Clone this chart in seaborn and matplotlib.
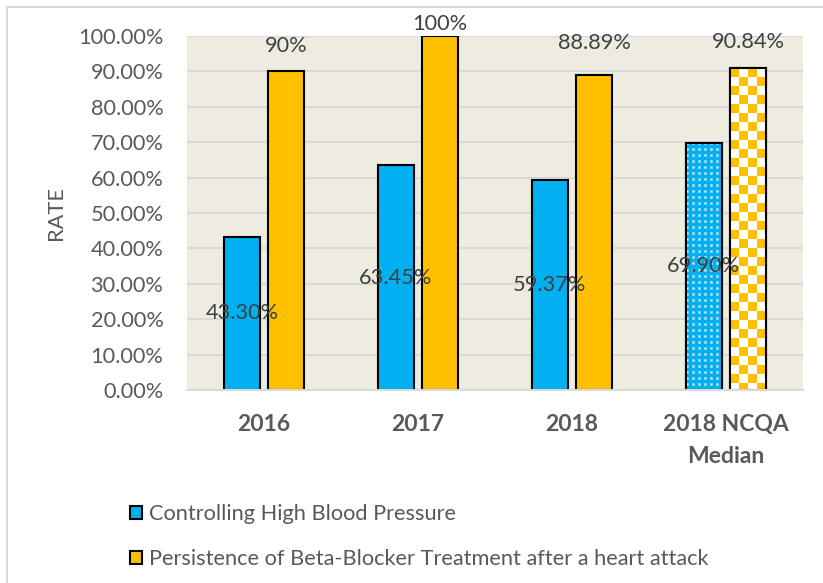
import numpy as np
import pandas as pd
import matplotlib.pyplot as plt
from matplotlib.patches import Rectangle
from matplotlib.lines import Line2D
import seaborn as sns

# chart data
years = ["2016", "2017", "2018", "2018 NCQA\nMedian"]
series_names = ["Controlling High Blood Pressure",
                "Persistence of Beta-Blocker Treatment after a heart attack"]
bp_rate = [43.30, 63.45, 59.37, 69.90]
bb_rate = [90.0, 100.0, 88.89, 90.84]
bp_labels = ["43.30%", "63.45%", "59.37%", "69.90%"]
bb_labels = ["90%", "100%", "88.89%", "90.84%"]

df = pd.DataFrame({
    "year": years * 2,
    "measure": [series_names[0]] * 4 + [series_names[1]] * 4,
    "rate": bp_rate + bb_rate,
})

sns.set_theme(style="white")
plt.rcParams["font.family"] = ["Lato", "DejaVu Sans"]

BLUE = "#00B0F0"
ORANGE = "#FFC000"
GREY_TXT = "#595959"
LABEL_TXT = "#404040"
FS = 15.7

fig = plt.figure(figsize=(8.23, 5.83), dpi=100)
ax = fig.add_axes([187 / 823, 1 - 390 / 583, 616 / 823, 354 / 583])
ax.set_facecolor("#EEECE1")

sns.barplot(data=df, x="year", y="rate", hue="measure",
            palette=[BLUE, ORANGE], width=0.576, gap=0.19,
            edgecolor="black", linewidth=1.5, saturation=1, ax=ax)

ax.set_ylim(0, 100)
ax.set_xlim(-0.5, 3.5)
ax.set_yticks(np.arange(0, 101, 10))
ax.set_yticklabels([f"{v:.2f}%" for v in np.arange(0, 101, 10)])
ax.yaxis.grid(True, color="#D9D9D9", lw=1.5)
ax.set_axisbelow(True)
for s in ["top", "right", "left"]:
    ax.spines[s].set_visible(False)
ax.spines["bottom"].set_color("#D9D9D9")
ax.spines["bottom"].set_linewidth(1.5)

ax.tick_params(axis="y", length=0, pad=17, labelsize=FS, labelcolor=GREY_TXT)
ax.tick_params(axis="x", length=0, pad=17.5, labelsize=16.5, labelcolor=GREY_TXT)
for t in ax.get_xticklabels():
    t.set_fontweight("bold")
    t.set_linespacing(1.65)

ax.set_xlabel("")
ax.set_ylabel("RATE", fontsize=FS, color=GREY_TXT)
ax.yaxis.set_label_coords(-0.197, 0.5)

# data labels
blue_bars = ax.containers[0]
orange_bars = ax.containers[1]
ax.bar_label(blue_bars, labels=bp_labels, label_type="center",
             fontsize=FS, color=LABEL_TXT)
pads = [11, 1.5, 16, 12]
for bar, lab, pad in zip(orange_bars, bb_labels, pads):
    ax.annotate(lab, (bar.get_x() + bar.get_width() / 2, bar.get_height()),
                xytext=(0, pad), textcoords="offset points",
                ha="center", va="bottom", fontsize=FS, color=LABEL_TXT,
                annotation_clip=False)

# legend below the plot
handles, labels = ax.get_legend_handles_labels()
ax.legend_.remove()
leg = fig.legend(handles, labels, loc="upper left",
                 bbox_to_anchor=(130 / 823, 1 - 504 / 583),
                 frameon=False, fontsize=FS, handlelength=0.55,
                 handleheight=0.55, handletextpad=0.3, labelspacing=1.15,
                 borderaxespad=0, borderpad=0)
for t in leg.get_texts():
    t.set_color(GREY_TXT)

# patterned fill for the NCQA median bars
fig.canvas.draw()
renderer = fig.canvas.get_renderer()


def fill_pattern(bar, kind):
    bb = bar.get_window_extent(renderer)
    w_px, h_px = max(int(round(bb.width)), 1), max(int(round(bb.height)), 1)
    r, c = np.mgrid[0:h_px, 0:w_px]
    if kind == "dots":
        img = np.zeros((h_px, w_px, 3))
        img[:] = np.array([0, 176, 240]) / 255
        halo = (r % 6 < 3) & (c % 6 < 3)
        img[halo] = np.array([120, 210, 248]) / 255
        core = (r % 6 == 1) & (c % 6 == 1)
        img[core] = 1.0
    else:
        img = np.ones((h_px, w_px, 3))
        mask = ((r // 9) + (c // 9)) % 2 == 0
        img[mask] = np.array([255, 192, 0]) / 255
    x0 = bar.get_x()
    ax.imshow(img, extent=(x0, x0 + bar.get_width(), 0, bar.get_height()),
              aspect="auto", interpolation="nearest", zorder=bar.get_zorder() + 0.1)
    ax.add_patch(Rectangle((x0, 0), bar.get_width(), bar.get_height(), fill=False,
                           ec="black", lw=1.5, zorder=bar.get_zorder() + 0.2))


fill_pattern(blue_bars[3], "dots")
fill_pattern(orange_bars[3], "checker")
ax.set_xlim(-0.5, 3.5)
ax.set_ylim(0, 100)

# outer chart border (top and left visible)
fig.add_artist(Line2D([7 / 823, 1], [1 - 7 / 583, 1 - 7 / 583], color="#D9D9D9", lw=1.5))
fig.add_artist(Line2D([7 / 823, 7 / 823], [0, 1 - 7 / 583], color="#D9D9D9", lw=1.5))

fig.savefig("out.png", dpi=100)
